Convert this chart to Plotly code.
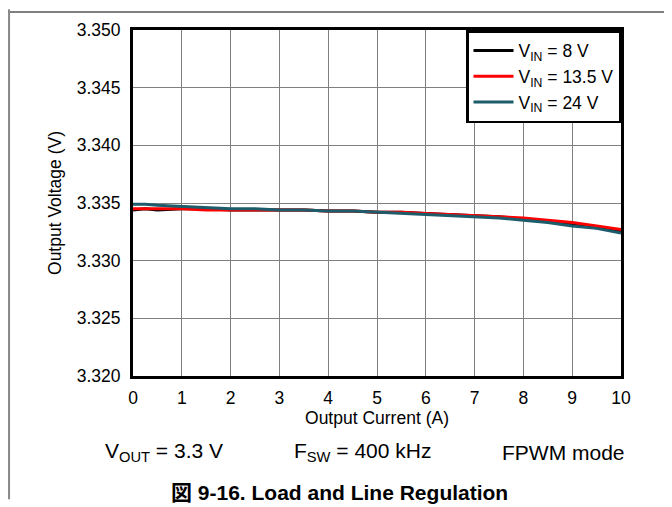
import plotly.graph_objects as go

# output current (A)
current = [0, 0.25, 0.5, 1, 1.5, 2, 2.5, 3, 3.5, 4, 4.5, 5, 5.5, 6, 6.5, 7, 7.5, 8, 8.5, 9, 9.5, 10]

# output voltage (V) per input voltage
v_8 = [3.3344, 3.3345, 3.3344, 3.3345, 3.3345, 3.3344, 3.3344, 3.3344, 3.3344, 3.3343, 3.3343, 3.3342,
       3.3342, 3.3341, 3.3340, 3.3339, 3.3338, 3.3336, 3.3334, 3.3332, 3.3329, 3.3326]
v_13p5 = [3.3345, 3.3345, 3.3345, 3.3345, 3.3344, 3.3344, 3.3344, 3.3344, 3.3344, 3.3343, 3.3343, 3.3342,
          3.3342, 3.3341, 3.3340, 3.3339, 3.3338, 3.3337, 3.3335, 3.3333, 3.3330, 3.3327]
v_24 = [3.3349, 3.3349, 3.3348, 3.3347, 3.3346, 3.3345, 3.3345, 3.3344, 3.3344, 3.3343, 3.3343, 3.3342,
        3.3341, 3.3340, 3.3339, 3.3338, 3.3337, 3.3335, 3.3333, 3.3330, 3.3328, 3.3324]

FONT = "Liberation Sans, Arial, Noto Sans CJK JP, sans-serif"

fig = go.Figure()
fig.add_trace(go.Scatter(x=current, y=v_8, mode="lines", name="V<sub>IN</sub> = 8 V",
                         line=dict(color="black", width=3)))
fig.add_trace(go.Scatter(x=current, y=v_13p5, mode="lines", name="V<sub>IN</sub> = 13.5 V",
                         line=dict(color="#ff0000", width=3)))
fig.add_trace(go.Scatter(x=current, y=v_24, mode="lines", name="V<sub>IN</sub> = 24 V",
                         line=dict(color="#1d5c6b", width=3)))

# page has an 8px body margin, so the figure is 8px smaller than the window
fig.update_layout(
    width=664, height=499,
    margin=dict(l=125, r=51, t=20, b=131),
    paper_bgcolor="white", plot_bgcolor="white",
    font=dict(family=FONT, size=17.5, color="black"),
    showlegend=True,
    legend=dict(x=1, y=1, xanchor="right", yanchor="top",
                bgcolor="white", bordercolor="black", borderwidth=2.5,
                font=dict(size=17.5), tracegroupgap=0, itemwidth=40),
    xaxis=dict(range=[0, 10], dtick=1, showgrid=True, gridcolor="#808080", gridwidth=1,
               showline=True, linecolor="black", linewidth=3, mirror=True,
               zeroline=False, ticks="", ticklabelstandoff=4,
               title=dict(text="Output Current (A)", standoff=0, font=dict(size=17.5))),
    yaxis=dict(range=[3.320, 3.350], dtick=0.005, tickformat=".3f", showgrid=True,
               gridcolor="#808080", gridwidth=1,
               showline=True, linecolor="black", linewidth=3, mirror=True,
               zeroline=False, ticks="", ticklabelstandoff=6,
               title=dict(text="Output Voltage (V)", standoff=11, font=dict(size=17.5))),
)

# page frame lines
fig.add_shape(type="line", xref="paper", yref="paper", x0=-0.256, x1=1.11, y0=1.052, y1=1.052,
              line=dict(color="black", width=1))
fig.add_shape(type="line", xref="paper", yref="paper", x0=-0.254, x1=-0.254, y0=1.06, y1=-0.356,
              line=dict(color="#888888", width=2))

# conditions line
conds = [("V<sub>OUT</sub> = 3.3 V", 0.064), ("F<sub>SW</sub> = 400 kHz", 0.471), ("FPWM mode", 0.883)]
for text, xp in conds:
    fig.add_annotation(text=text, xref="paper", yref="paper", x=xp, y=-0.221,
                       xanchor="center", yanchor="middle", showarrow=False,
                       font=dict(size=21, color="black"))

fig.add_annotation(text="<b>図 9-16. Load and Line Regulation</b>", xref="paper", yref="paper",
                   x=0.424, y=-0.336, xanchor="center", yanchor="middle", showarrow=False,
                   font=dict(size=21, color="black"))

fig.write_html("out.html")
